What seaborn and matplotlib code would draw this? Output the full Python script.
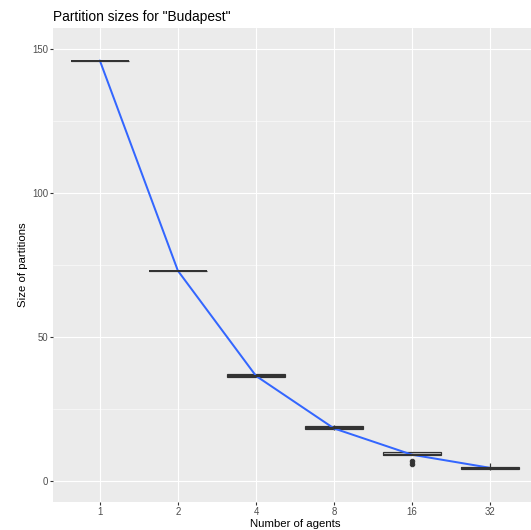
import matplotlib
matplotlib.use("Agg")
import matplotlib.pyplot as plt
import seaborn as sns
import pandas as pd

agents = ["1", "2", "4", "8", "16", "32"]
sizes_1 = [146]
sizes_2 = [73, 73]
sizes_4 = [36, 36, 37, 37]
sizes_8 = [17.6, 18, 18, 18.25, 18.25, 19.25, 19.25, 19.5]
sizes_16 = [6, 7, 9, 9, 9, 9, 9, 9.1, 9.15, 10, 10, 10, 10, 10, 10, 10]
sizes_32 = [3.7] + [4] * 15 + [5] * 15 + [6.2]
line_values = [146, 73, 36.5, 18.25, 9.125, 4.5625]

groups = [sizes_1, sizes_2, sizes_4, sizes_8, sizes_16, sizes_32]
df = pd.DataFrame({
    "agents": [a for a, g in zip(agents, groups) for _ in g],
    "size": [v for g in groups for v in g],
})
line_df = pd.DataFrame({"agents": agents, "size": line_values})

sns.set_theme(style="darkgrid")
plt.rcParams["font.family"] = ["Liberation Sans", "DejaVu Sans"]

fig = plt.figure(figsize=(531 / 72, 530 / 72), dpi=72)
ax = fig.add_axes([53 / 531, 1 - 502 / 530, (537 - 53) / 531, (502 - 28) / 530])
ax.set_facecolor("#EBEBEB")

sns.boxplot(data=df, x="agents", y="size", order=agents, width=0.75, ax=ax,
            color="#BEBEBE", linecolor="#333333", linewidth=1.2, whis=1.5,
            showcaps=False,
            flierprops=dict(marker="o", markersize=4.5, markerfacecolor="#333333",
                            markeredgecolor="#333333"),
            medianprops=dict(linewidth=2.0, color="#333333"),
            saturation=1)
sns.lineplot(data=line_df, x="agents", y="size", color="#3366FF", linewidth=2,
             ax=ax, sort=False)

ax.set_xlim(-0.6, 5.6)
y0 = -(502 - 481) / 2.88
y1 = 150 + (49 - 28) / 2.88
ax.set_ylim(y0, y1)
ax.set_yticks([0, 50, 100, 150])
ax.set_yticks([25, 75, 125], minor=True)
ax.grid(which="major", color="white", linewidth=1.1)
ax.grid(which="minor", axis="y", color="white", linewidth=0.55)
for s in ax.spines.values():
    s.set_visible(False)
ax.tick_params(axis="both", which="major", length=2.75, width=1.1, color="#333333",
               labelcolor="#4D4D4D", labelsize=9.6, pad=2.2, left=True, bottom=True)
ax.tick_params(axis="y", which="minor", length=0)
ax.set_xlabel("Number of agents", fontsize=11.4, color="black", labelpad=2.0)
ax.set_ylabel("Size of partitions", fontsize=11.4, color="black", labelpad=4)
ax.set_title('Partition sizes for "Budapest"', fontsize=13.7, loc="left", pad=7, color="black")

fig.savefig("out.png", dpi=72)
